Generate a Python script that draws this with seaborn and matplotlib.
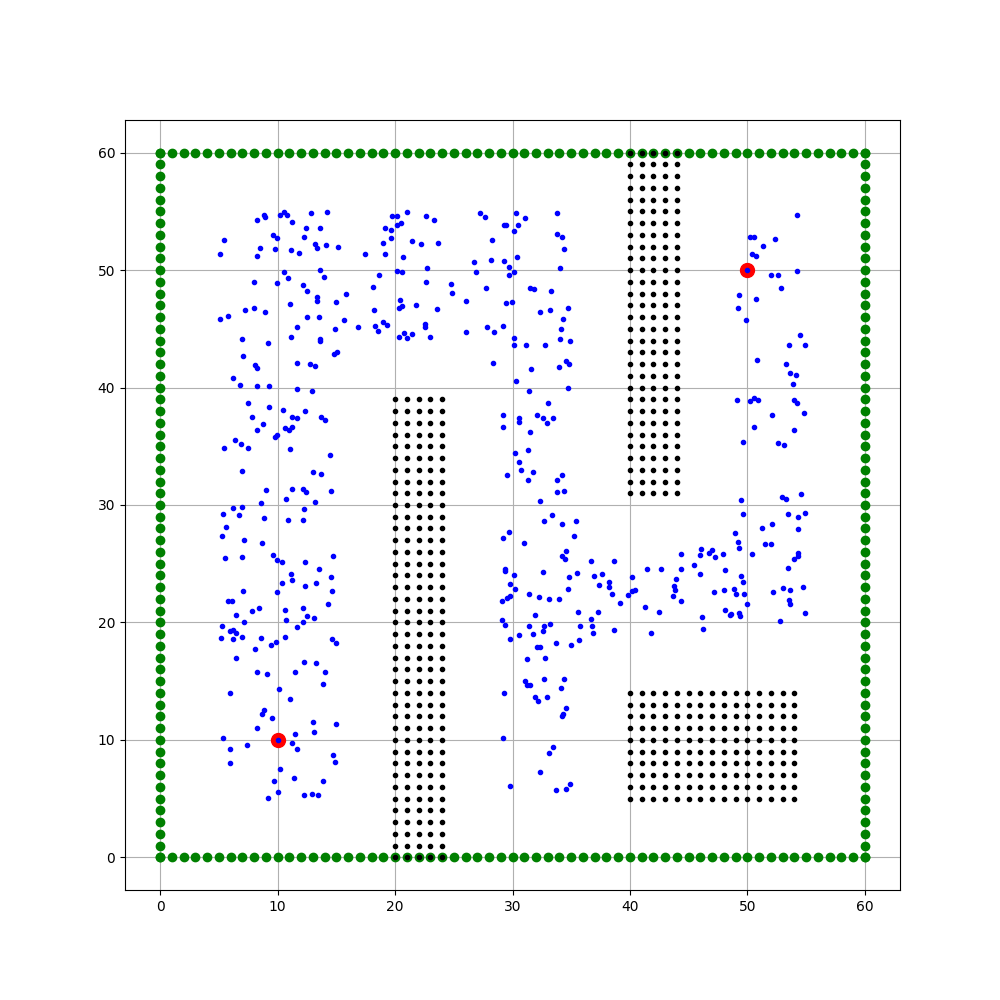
import numpy as np
import matplotlib
matplotlib.use("Agg")
import matplotlib.pyplot as plt
import seaborn as sns

# start / goal
start = (10.0, 10.0)
goal = (50.0, 50.0)

# map border, one point per metre on each side
border = list(range(0, 61))

# obstacle blocks (grid point columns / rows)
block1_x = [20, 21, 22, 23, 24]
block1_y = list(range(0, 40))
block2_x = [40, 41, 42, 43, 44]
block2_y = list(range(31, 61))
block3_x = list(range(40, 55))
block3_y = list(range(5, 15))

# random samples
sample_x = [
    5.40, 5.12, 8.27, 8.81, 8.89, 8.47, 8.27, 9.57, 9.91, 9.74, 10.17, 10.51, 10.77, 11.19, 12.81, 14.17, 12.38, 13.57,
    12.21, 13.15, 13.32, 14.09, 15.11, 11.11, 11.79, 17.40, 19.11, 18.94, 19.11, 19.62, 19.62, 19.70, 20.13, 20.13,
    20.50, 20.67,
    10.51, 10.85, 9.91, 7.96, 13.57, 13.91, 12.13, 12.47, 13.32, 13.32, 11.02, 14.94, 15.79, 7.19, 7.96, 8.89, 5.12,
    5.74, 12.47, 13.49, 15.62, 11.62, 14.85, 16.81, 11.11, 13.57, 13.57, 6.94, 9.15, 7.02, 8.04, 8.21, 14.77, 15.03,
    11.62, 12.72, 13.15, 6.17, 6.77, 8.21, 9.23, 11.62, 12.89, 7.45,
    18.09, 18.60, 18.17, 18.26, 18.51, 18.94, 19.28, 20.13, 20.61, 20.38, 20.30, 20.55, 20.30, 20.72,
    21.04, 22.65, 23.33, 27.25, 27.67, 30.31, 31.08, 33.80, 29.29, 29.46, 30.48, 30.14, 21.46, 22.23, 23.67, 28.27,
    33.80, 34.23, 34.40, 26.74, 28.18, 29.29, 30.40, 29.72, 30.14, 29.72, 22.74, 26.91, 34.06, 22.65, 24.78, 24.87,
    27.76, 31.50, 31.79, 33.29, 21.80, 23.59, 26.06, 29.46, 29.97, 32.35, 33.21, 34.74, 34.31, 22.57, 22.57, 21.46,
    20.98, 22.99, 26.06, 27.84, 28.44, 29.21, 34.14, 34.06, 34.91, 30.14, 30.14, 31.16, 32.78, 28.35, 31.59, 33.97,
    34.57, 34.82, 30.31, 31.42, 34.74, 33.04,
    54.23, 50.26, 50.60, 52.35, 51.33, 50.40, 50.74, 52.01, 52.61, 54.23, 52.87, 49.29, 50.74, 49.21, 49.89, 54.48,
    53.55, 54.91, 50.82, 53.29, 53.63, 54.14, 53.89, 49.12, 50.57, 50.91, 50.23, 53.97, 54.23,
    9.23, 10.43, 12.30, 7.79, 8.72, 8.21, 11.19, 11.62, 13.66, 14.00, 10.60, 10.94, 11.19, 9.74, 9.91, 6.34, 6.85,
    7.45, 5.40, 11.02, 14.43, 6.94, 12.98, 13.66, 9.04, 11.19, 12.13, 12.38, 14.51, 10.68, 13.15, 8.55, 6.94, 6.17,
    5.32, 6.68, 12.21, 8.81, 10.85, 12.13, 5.57, 5.23, 7.11, 8.64, 5.49, 6.94, 9.57, 9.91, 10.34, 12.30, 14.68, 13.49,
    11.11, 11.19, 10.34, 12.30, 13.23, 14.51, 7.02, 9.91, 14.60, 5.74, 6.09, 14.26,
    29.21, 30.57, 30.57, 29.21, 32.10, 32.61, 32.95, 33.46, 31.50, 31.33, 30.23, 30.57, 30.74, 31.76, 29.55, 31.33,
    33.80, 34.23, 33.80, 34.40, 32.35, 33.38, 32.70, 34.23, 35.42, 29.72, 29.21, 30.99, 35.25, 34.57, 34.23, 34.48,
    36.70, 29.38, 29.38, 30.14, 32.61, 35.50, 34.82, 36.96, 37.64, 37.39, 29.80, 30.23, 34.74, 31.42, 29.80, 29.55,
    29.12, 32.27, 33.12, 33.97,
    54.82, 52.10, 50.57, 53.97, 49.63, 52.61, 53.12, 52.95, 53.29, 54.57, 49.46, 49.63, 53.46, 54.31, 54.91, 51.25,
    52.10, 54.31, 48.95, 49.21, 49.29, 51.50, 52.01, 50.40, 54.31, 54.31, 53.97, 53.46, 46.06, 45.98, 46.74, 47.00,
    47.25, 47.93, 44.35, 45.46, 44.35, 48.10, 45.98, 49.46, 49.63, 42.65, 41.46, 43.89, 40.18, 38.65, 38.23, 38.23,
    38.48, 39.16, 39.84, 40.18, 40.44, 43.72, 43.80, 43.63, 44.35, 47.16, 48.01, 48.87, 49.04, 49.72, 49.97, 52.18,
    53.04, 53.63, 54.74, 53.55, 53.63,
    7.79, 8.38, 10.60, 12.13, 6.43, 7.11, 5.23, 5.91, 6.17, 6.43, 5.15, 6.17, 6.94, 8.55, 10.68, 12.47, 12.13, 13.06,
    11.62, 10.60, 9.83, 9.40, 8.04, 14.60, 14.94, 6.43, 12.21, 13.23, 8.27, 9.06, 11.45, 14.00, 13.83, 10.09, 11.02,
    5.91, 8.81, 8.64, 9.49, 8.21, 12.98, 14.94, 13.06, 11.45, 5.32, 7.36, 11.19, 11.62, 5.91, 14.68, 14.85, 5.91,
    10.17, 9.66, 11.36, 13.83, 10.00, 9.15, 12.21, 12.89, 13.40,
    31.93, 35.59, 37.29, 29.12, 29.38, 31.42, 32.70, 33.21, 32.61, 31.76, 30.57, 29.80, 35.76, 36.70, 36.78, 36.87,
    35.67, 34.99, 33.72, 32.10, 32.35, 31.25, 32.78, 32.70, 34.40, 31.08, 31.25, 31.50, 34.14, 29.29, 31.93, 32.95,
    32.18, 34.57, 34.31, 34.23, 29.21, 33.46, 33.12, 32.35, 29.80, 34.91, 34.57, 33.72,
    41.29, 42.48, 38.65, 41.80, 46.14, 46.23, 48.10, 48.52, 48.60, 49.29, 49.38, 54.91, 52.78,
]
sample_y = [
    52.56, 51.36, 54.26, 54.72, 54.52, 51.88, 51.19, 53.01, 52.73, 51.79, 54.69, 54.94, 54.69, 54.09, 54.86, 54.94,
    53.58, 53.58, 52.81, 52.24, 51.88, 52.13, 51.96, 51.70, 51.45, 51.36, 51.36, 52.30, 53.58, 53.41, 52.73, 54.60,
    54.60, 53.84, 54.01, 51.11,
    49.86, 49.32, 48.89, 48.98, 50.00, 49.40, 48.72, 48.21, 47.70, 47.36, 47.10, 47.27, 47.95, 46.59, 46.76, 46.42,
    45.82, 46.08, 45.99, 45.99, 45.74, 45.14, 44.97, 45.14, 44.29, 44.12, 43.95, 44.12, 43.78, 42.67, 41.88, 41.65,
    42.84, 43.01, 42.07, 41.99, 41.82, 40.80, 40.20, 40.11, 40.11, 39.86, 39.69, 38.66,
    48.55, 49.57, 46.59, 45.23, 44.80, 45.57, 45.31, 49.91, 49.83, 47.44, 46.76, 46.93, 44.29, 44.63,
    54.94, 54.60, 54.26, 54.86, 54.52, 54.86, 54.43, 54.86, 53.84, 53.84, 53.84, 53.32, 52.47, 52.22, 52.30, 52.56,
    53.07, 52.81, 51.79, 50.68, 50.85, 50.77, 51.11, 50.26, 49.83, 49.57, 50.17, 49.83, 50.17, 48.98, 48.81, 48.04,
    48.47, 48.47, 48.38, 48.21, 47.02, 46.68, 47.36, 47.19, 47.27, 46.42, 46.59, 46.76, 45.82, 45.40, 45.14, 44.55,
    44.23, 44.29, 44.72, 45.14, 44.72, 45.23, 44.97, 44.12, 43.95, 44.20, 43.61, 43.61, 43.61, 42.07, 41.56, 41.73,
    42.24, 41.99, 40.54, 39.69, 39.94, 38.69,
    54.69, 52.81, 52.81, 52.64, 52.05, 51.36, 51.19, 49.57, 49.57, 49.91, 48.47, 47.87, 47.53, 46.76, 45.74, 44.46,
    43.61, 43.61, 42.33, 41.99, 41.22, 41.05, 40.28, 38.90, 39.15, 38.90, 38.89, 38.92, 38.66,
    38.32, 38.07, 37.98, 37.47, 36.88, 36.36, 37.47, 37.39, 37.47, 37.22, 36.53, 36.36, 36.62, 35.77, 35.94, 35.51,
    35.17, 34.83, 34.83, 34.74, 34.23, 32.87, 32.78, 32.61, 31.25, 31.34, 31.34, 31.08, 31.16, 30.48, 30.23, 30.14,
    29.80, 29.72, 29.20, 29.12, 29.63, 28.86, 28.69, 28.69, 28.10, 27.33, 26.99, 26.73, 25.45, 25.54, 25.71, 25.28,
    25.11, 25.11, 25.63, 24.52, 24.09, 23.58, 23.32, 23.07, 23.32, 23.84, 22.64, 22.56, 22.64, 21.79, 21.79, 21.53,
    37.64, 37.39, 37.05, 36.62, 37.64, 37.39, 36.96, 37.39, 36.19, 34.66, 34.40, 33.64, 32.95, 32.78, 32.53, 32.10,
    32.10, 32.53, 31.08, 31.16, 30.31, 29.12, 28.61, 28.35, 28.61, 27.67, 27.16, 26.73, 27.33, 26.05, 25.63, 25.37,
    25.20, 24.52, 24.35, 24.01, 24.26, 24.18, 23.84, 23.92, 24.09, 23.15, 23.24, 22.81, 22.81, 22.39, 22.22, 22.05,
    21.79, 22.13, 21.96, 21.96,
    37.81, 37.64, 36.62, 36.36, 35.34, 35.26, 35.09, 30.65, 30.48, 30.91, 30.40, 29.20, 29.20, 28.95, 29.29, 28.01,
    28.35, 27.93, 27.59, 26.82, 26.31, 26.65, 26.65, 25.80, 25.88, 25.63, 25.37, 24.60, 26.22, 25.71, 25.88, 26.14,
    25.54, 25.80, 25.80, 24.86, 24.52, 24.43, 24.09, 23.92, 23.41, 24.52, 24.52, 23.66, 23.84, 25.20, 23.41, 22.98,
    22.39, 21.62, 22.30, 22.64, 22.73, 23.07, 22.73, 22.22, 21.79, 22.56, 22.73, 22.81, 22.39, 22.39, 21.53, 22.56,
    22.90, 22.73, 22.98, 21.88, 21.53,
    20.94, 21.19, 21.02, 21.19, 20.60, 20.00, 19.66, 19.23, 19.32, 19.06, 18.64, 18.55, 18.72, 18.64, 20.17, 20.51,
    20.00, 20.34, 19.57, 18.72, 18.30, 18.04, 17.70, 18.55, 18.21, 16.93, 16.59, 16.51, 15.82, 15.57, 15.82, 15.82,
    14.72, 14.29, 13.52, 14.03, 12.50, 12.24, 11.82, 10.97, 11.56, 11.39, 10.71, 10.54, 10.20, 9.60, 9.69, 9.18, 9.18,
    8.75, 8.15, 8.07, 7.56, 6.53, 6.79, 6.53, 5.60, 5.09, 5.34, 5.43, 5.34,
    20.60, 20.85, 20.85, 20.17, 19.74, 19.66, 19.66, 19.83, 19.23, 18.98, 18.89, 18.55, 19.66, 20.26, 19.66, 19.06,
    18.47, 18.04, 18.21, 17.87, 17.87, 16.85, 16.93, 15.14, 15.14, 14.97, 14.63, 14.63, 14.38, 14.03, 13.69, 13.61,
    13.27, 12.67, 12.24, 11.99, 10.20, 9.43, 8.84, 7.30, 6.11, 6.28, 5.85, 5.77,
    21.28, 20.85, 19.32, 19.06, 20.43, 19.40, 21.02, 20.60, 20.68, 20.77, 20.51, 20.77, 20.09,
]
assert len(sample_x) == len(sample_y)

# build the point sets
ox = border + [60] * len(border) + border + [0] * len(border)
oy = [0] * len(border) + border + [60] * len(border) + border

bx, by = [], []
for cols, rows in [(block1_x, block1_y), (block2_x, block2_y), (block3_x, block3_y)]:
    gx, gy = np.meshgrid(cols, rows)
    bx += list(gx.ravel())
    by += list(gy.ravel())

px = sample_x + [start[0], goal[0]]
py = sample_y + [start[1], goal[1]]

fig, ax = plt.subplots(figsize=(10, 10), dpi=100)
ax.set_axisbelow(True)

sns.scatterplot(x=ox, y=oy, marker="o", s=36, color="g", edgecolor="g", linewidth=1, ax=ax, zorder=2)
sns.scatterplot(x=bx, y=by, marker=".", s=36, color="k", edgecolor="k", linewidth=1, ax=ax, zorder=2)
sns.scatterplot(x=[start[0], goal[0]], y=[start[1], goal[1]], marker="o", s=100,
                color="r", edgecolor="r", linewidth=1, ax=ax, zorder=2)
sns.scatterplot(x=px, y=py, marker=".", s=36, color="b", edgecolor="b", linewidth=1, ax=ax, zorder=2)

ax.grid(True)
ax.axis("equal")

fig.savefig("out.png", dpi=100)
